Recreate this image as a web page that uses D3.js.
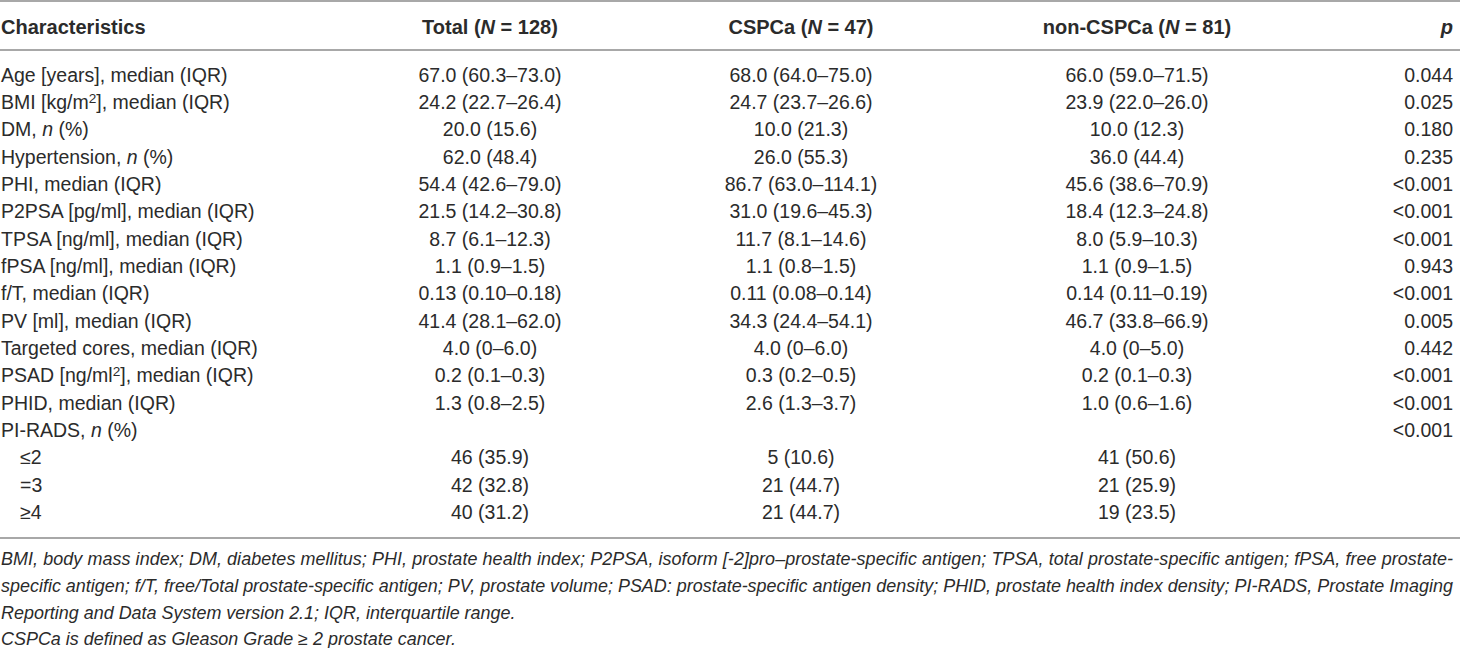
<!DOCTYPE html>
<html>
<head>
<meta charset="utf-8">
<script src="https://cdn.jsdelivr.net/npm/d3@7"></script>
<style>
  body { margin: 0; background: #fff; }
  text { font-family: "Liberation Sans", Arial, sans-serif; fill: #2b2b2b; }
</style>
</head>
<body>
<div id="chart"></div>
<script>
// Table content (*x* = italic, ^x^ = superscript)
var columns = ['Characteristics', 'Total (*N* = 128)', 'CSPCa (*N* = 47)', 'non-CSPCa (*N* = 81)', '*p*'];

var characteristics = [
    'Age [years], median (IQR)',
    'BMI [kg/m^2^], median (IQR)',
    'DM, *n* (%)',
    'Hypertension, *n* (%)',
    'PHI, median (IQR)',
    'P2PSA [pg/ml], median (IQR)',
    'TPSA [ng/ml], median (IQR)',
    'fPSA [ng/ml], median (IQR)',
    'f/T, median (IQR)',
    'PV [ml], median (IQR)',
    'Targeted cores, median (IQR)',
    'PSAD [ng/ml^2^], median (IQR)',
    'PHID, median (IQR)',
    'PI-RADS, *n* (%)',
    '≤2',
    '=3',
    '≥4'
];
var subRows = ['≤2', '=3', '≥4'];

var totalValues = ['67.0 (60.3–73.0)', '24.2 (22.7–26.4)', '20.0 (15.6)', '62.0 (48.4)', '54.4 (42.6–79.0)',
    '21.5 (14.2–30.8)', '8.7 (6.1–12.3)', '1.1 (0.9–1.5)', '0.13 (0.10–0.18)', '41.4 (28.1–62.0)',
    '4.0 (0–6.0)', '0.2 (0.1–0.3)', '1.3 (0.8–2.5)', '', '46 (35.9)', '42 (32.8)', '40 (31.2)'];

var cspcaValues = ['68.0 (64.0–75.0)', '24.7 (23.7–26.6)', '10.0 (21.3)', '26.0 (55.3)', '86.7 (63.0–114.1)',
    '31.0 (19.6–45.3)', '11.7 (8.1–14.6)', '1.1 (0.8–1.5)', '0.11 (0.08–0.14)', '34.3 (24.4–54.1)',
    '4.0 (0–6.0)', '0.3 (0.2–0.5)', '2.6 (1.3–3.7)', '', '5 (10.6)', '21 (44.7)', '21 (44.7)'];

var nonCspcaValues = ['66.0 (59.0–71.5)', '23.9 (22.0–26.0)', '10.0 (12.3)', '36.0 (44.4)', '45.6 (38.6–70.9)',
    '18.4 (12.3–24.8)', '8.0 (5.9–10.3)', '1.1 (0.9–1.5)', '0.14 (0.11–0.19)', '46.7 (33.8–66.9)',
    '4.0 (0–5.0)', '0.2 (0.1–0.3)', '1.0 (0.6–1.6)', '', '41 (50.6)', '21 (25.9)', '19 (23.5)'];

var pValues = ['0.044', '0.025', '0.180', '0.235', '<0.001', '<0.001', '<0.001', '0.943', '<0.001', '0.005',
    '0.442', '<0.001', '<0.001', '<0.001', '', '', ''];

var notes = [
    'BMI, body mass index; DM, diabetes mellitus; PHI, prostate health index; P2PSA, isoform [-2]pro–prostate-specific antigen; TPSA, total prostate-specific antigen; fPSA, free prostate-',
    'specific antigen; f/T, free/Total prostate-specific antigen; PV, prostate volume; PSAD: prostate-specific antigen density; PHID, prostate health index density; PI-RADS, Prostate Imaging',
    'Reporting and Data System version 2.1; IQR, interquartile range.',
    'CSPCa is defined as Gleason Grade ≥ 2 prostate cancer.'
];
// the first two note lines are justified to the full width
var justified = [true, true, false, false];

var width = 1460, height = 648;

var svg = d3.select('#chart')
    .append('svg')
    .attr('width', width)
    .attr('height', height);

// column positions and anchors
var colKeys = ['label', 'total', 'cspca', 'non', 'p'];
var x = d3.scaleOrdinal().domain(colKeys).range([1, 490, 801, 1137, 1453]);
var anchor = d3.scaleOrdinal().domain(colKeys).range(['start', 'middle', 'middle', 'middle', 'end']);

// row positions
var y = d3.scalePoint()
    .domain(d3.range(characteristics.length))
    .range([75, 512]);

var yNote = d3.scalePoint()
    .domain(d3.range(notes.length))
    .range([559, 639]);

// writes "*italic*" and "^sup^" markup as tspans
function richText(sel, str) {
    str.split(/(\*[^*]+\*|\^[^^]+\^)/).forEach(function(part) {
        if (!part) return;
        if (part[0] === '*') {
            sel.append('tspan').attr('font-style', 'italic').text(part.slice(1, -1));
        } else if (part[0] === '^') {
            sel.append('tspan')
                .attr('font-size', '0.7em')
                .attr('baseline-shift', '45%')
                .text(part.slice(1, -1));
        } else {
            sel.append('tspan').text(part);
        }
    });
}

// rules
var rules = [1, 50, 538];
svg.selectAll('line.rule')
    .data(rules)
    .enter().append('line')
    .attr('class', 'rule')
    .attr('x1', 0).attr('x2', width)
    .attr('y1', function(d) { return d; })
    .attr('y2', function(d) { return d; })
    .attr('stroke', '#a8a8a8')
    .attr('stroke-width', 2);

// header
svg.append('g').selectAll('text')
    .data(columns)
    .enter().append('text')
    .attr('x', function(d, i) { return x(colKeys[i]); })
    .attr('y', 27)
    .attr('dy', '0.35em')
    .attr('text-anchor', function(d, i) { return anchor(colKeys[i]); })
    .attr('font-size', 20)
    .attr('font-weight', 'bold')
    .each(function(d) { richText(d3.select(this), d); });

// body rows
var rows = characteristics.map(function(c, i) {
    return [c, totalValues[i], cspcaValues[i], nonCspcaValues[i], pValues[i]];
});

var rowG = svg.append('g').selectAll('g')
    .data(rows)
    .enter().append('g')
    .attr('transform', function(d, i) { return 'translate(0,' + y(i) + ')'; });

rowG.selectAll('text')
    .data(function(d) {
        var sub = subRows.indexOf(d[0]) >= 0;
        return d.map(function(v, j) { return { v: v, j: j, sub: sub }; })
            .filter(function(c) { return c.v !== ''; });
    })
    .enter().append('text')
    .attr('x', function(d) { return x(colKeys[d.j]) + (d.sub && d.j === 0 ? 19 : 0); })
    .attr('dy', '0.35em')
    .attr('text-anchor', function(d) { return anchor(colKeys[d.j]); })
    .attr('font-size', 19.5)
    .style('font-family', function(d) { return d.sub ? '"Liberation Sans Narrow", "Liberation Sans", sans-serif' : null; })
    .each(function(d) { richText(d3.select(this), d.v); });

// footnotes, sized so the longest line fills the table width
var noteText = svg.append('g').selectAll('text')
    .data(notes)
    .enter().append('text')
    .attr('x', 1)
    .attr('y', function(d, i) { return yNote(i); })
    .attr('dy', '0.35em')
    .attr('font-size', 19)
    .attr('font-style', 'italic')
    .style('font-family', '"Liberation Sans Narrow", "Liberation Sans", sans-serif')
    .text(function(d) { return d; });

var longest = d3.max(noteText.nodes(), function(n) { return n.getComputedTextLength(); });
noteText.attr('font-size', 19 * 1452 / longest);
noteText.filter(function(d, i) { return justified[i]; })
    .attr('textLength', 1452)
    .attr('lengthAdjust', 'spacing');
</script>
</body>
</html>
